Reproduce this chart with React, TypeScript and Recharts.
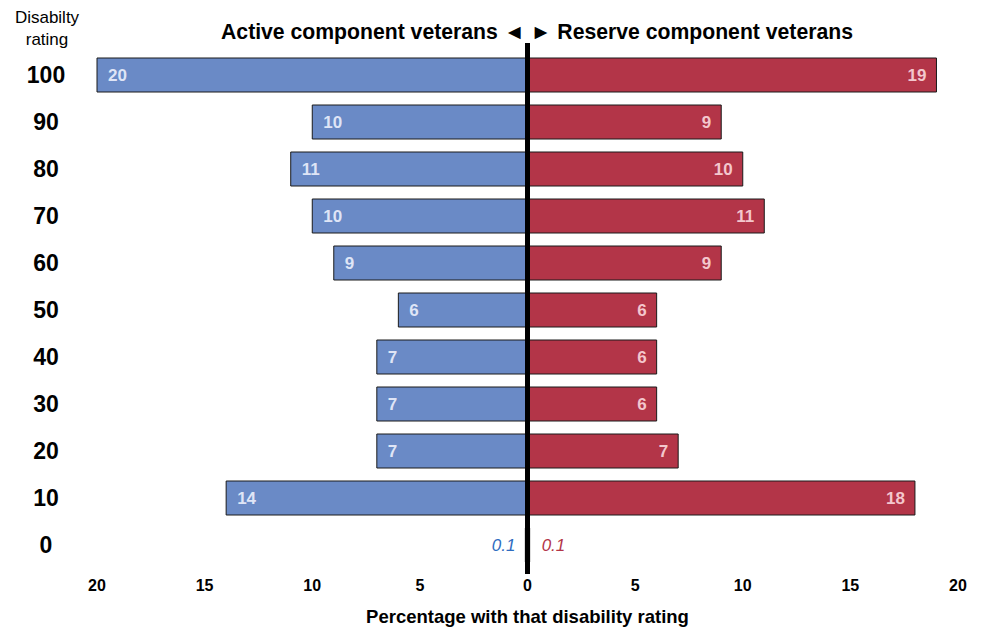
import { BarChart, Bar, XAxis, YAxis, ReferenceLine, LabelList } from 'recharts';

const RATINGS = ['100', '90', '80', '70', '60', '50', '40', '30', '20', '10', '0'];
const ACTIVE = [20, 10, 11, 10, 9, 6, 7, 7, 7, 14, 0.1];
const RESERVE = [19, 9, 10, 11, 9, 6, 6, 6, 7, 18, 0.1];
const X_TICKS = [-20, -15, -10, -5, 0, 5, 10, 15, 20];

const BLUE = '#6a8ac6';
const RED = '#b33548';
const FONT = '"Liberation Sans", Arial, sans-serif';

const rows = RATINGS.map((rating, i) => ({
  rating,
  active: ACTIVE[i],
  activeNeg: -ACTIVE[i],
  reserve: RESERVE[i],
}));

function RatingTick({ y, payload }: any) {
  return (
    <text x={46} y={y} dy={8} textAnchor="middle" fontSize={23} fontWeight="bold" fill="#000" fontFamily={FONT}>
      {payload.value}
    </text>
  );
}

function PctTick({ x, y, payload }: any) {
  return (
    <text x={x} y={y} dy={15} textAnchor="middle" fontSize={16} fontWeight="bold" fill="#000" fontFamily={FONT}>
      {Math.abs(payload.value)}
    </text>
  );
}

// divider starts at the top bar edge and stops a little above the axis
function Divider({ x1, y1, x2, y2 }: any) {
  return <line x1={x1} x2={x2} y1={y1 + 6} y2={y2 - 8} stroke="#000" strokeWidth={5} />;
}

function makeLabel(side: 'left' | 'right') {
  return (props: any) => {
    const { x, y, width, height, value } = props;
    const left = Math.min(x, x + width);
    const right = Math.max(x, x + width);
    const cy = y + height / 2 + 6;
    if (value < 1) {
      // tiny bars hidden behind the center line, label them outside
      return side === 'left' ? (
        <text x={left - 10} y={cy} textAnchor="end" fontSize={17} fontStyle="italic" fill="#2e6cc0" fontFamily={FONT}>
          {value}
        </text>
      ) : (
        <text x={right + 12} y={cy} textAnchor="start" fontSize={17} fontStyle="italic" fill={RED} fontFamily={FONT}>
          {value}
        </text>
      );
    }
    return side === 'left' ? (
      <text x={left + 11} y={cy} textAnchor="start" fontSize={17} fontWeight="bold" fill="#dfe5f6" fontFamily={FONT}>
        {value}
      </text>
    ) : (
      <text x={right - 10} y={cy} textAnchor="end" fontSize={17} fontWeight="bold" fill="#f3c7cd" fontFamily={FONT}>
        {value}
      </text>
    );
  };
}

export default function App() {
  return (
    <div style={{ position: 'absolute', left: 0, top: 0, width: 983, height: 627, background: '#fff', fontFamily: FONT }}>
      <div style={{ position: 'absolute', left: 0, top: 7, width: 94, textAlign: 'center', fontSize: 17, lineHeight: '22px' }}>
        Disabilty
        <br />
        rating
      </div>
      <div
        style={{
          position: 'absolute',
          left: 0,
          top: 20,
          width: 1074,
          textAlign: 'center',
          fontSize: 21.2,
          fontWeight: 'bold',
          whiteSpace: 'nowrap',
        }}
      >
        Active component veterans ◄ ► Reserve component veterans
      </div>
      <BarChart
        width={983}
        height={627}
        data={rows}
        layout="vertical"
        stackOffset="sign"
        barSize={34}
        margin={{ top: 51, right: 25, bottom: 0, left: 0 }}
      >
        <XAxis
          type="number"
          domain={[-20, 20]}
          ticks={X_TICKS}
          axisLine={false}
          tickLine={false}
          tick={<PctTick />}
          height={59}
          label={{
            value: 'Percentage with that disability rating',
            position: 'insideBottom',
            offset: 4,
            fontSize: 18.5,
            fontWeight: 'bold',
            fill: '#000',
            fontFamily: FONT,
          }}
        />
        <YAxis type="category" dataKey="rating" width={97} axisLine={false} tickLine={false} tick={<RatingTick />} />
        <Bar dataKey="activeNeg" stackId="v" fill={BLUE} stroke="#1a1a1a" strokeWidth={1} isAnimationActive={false}>
          <LabelList dataKey="active" content={makeLabel('left')} />
        </Bar>
        <Bar dataKey="reserve" stackId="v" fill={RED} stroke="#1a1a1a" strokeWidth={1} isAnimationActive={false}>
          <LabelList dataKey="reserve" content={makeLabel('right')} />
        </Bar>
        <ReferenceLine x={0} shape={<Divider />} />
      </BarChart>
    </div>
  );
}
